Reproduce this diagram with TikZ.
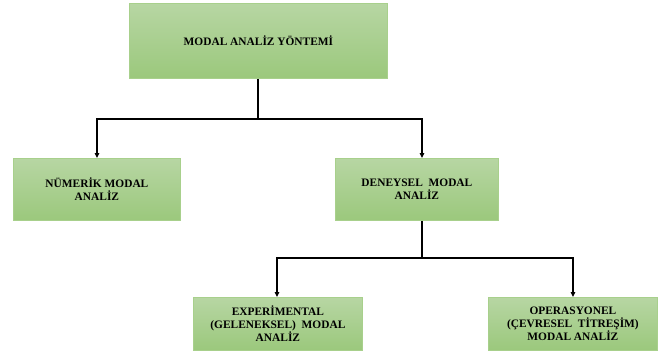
\documentclass[tikz,border=0pt]{standalone}
\usepackage{fontspec}
\setmainfont{Liberation Serif}
\usetikzlibrary{arrows.meta}
\definecolor{boxtop}{RGB}{183,214,163}
\definecolor{boxbot}{RGB}{155,200,124}
\definecolor{boxline}{RGB}{168,208,140}
\tikzset{
  greenbox/.style={draw=boxline, line width=0.8pt, top color=boxtop, bottom color=boxbot,
    align=center, font=\bfseries\fontsize{11.4}{13}\selectfont, inner sep=0pt, anchor=north west},
  conn/.style={line width=1.2pt, black},
  arr/.style={conn, -{Triangle[length=5pt,width=4.5pt]}}
}
\begin{document}
\begin{tikzpicture}[x=1pt,y=-1pt]
\useasboundingbox (0,0) rectangle (663,354);
\node[greenbox, minimum width=258pt, minimum height=75pt] (top) at (129,3) {MODAL ANALİZ YÖNTEMİ};
\node[greenbox, minimum width=167pt, minimum height=62pt] (num) at (13,158) {NÜMERİK MODAL\\ANALİZ};
\node[greenbox, minimum width=163pt, minimum height=62pt] (den) at (335,158) {DENEYSEL\ \ MODAL\\ANALİZ};
\node[greenbox, minimum width=169pt, minimum height=53pt] (exp) at (193,297) {EXPERİMENTAL\\(GELENEKSEL)\ \ MODAL\\ANALİZ};
\node[greenbox, minimum width=169pt, minimum height=53pt] (ope) at (488,297) {OPERASYONEL\\(ÇEVRESEL\ \ TİTREŞİM)\\MODAL ANALİZ};
% connectors
\coordinate (j1) at (258,119);
\coordinate (j2) at (422,258);
\draw[conn] (top.south -| j1) -- (j1);
\draw[arr] (j1) -| (num.north -| 97,0);
\draw[arr] (j1) -| (den.north -| 422,0);
\draw[conn] (den.south -| j2) -- (j2);
\draw[arr] (j2) -| (exp.north -| 277,0);
\draw[arr] (j2) -| (ope.north -| 573,0);
\end{tikzpicture}
\end{document}
